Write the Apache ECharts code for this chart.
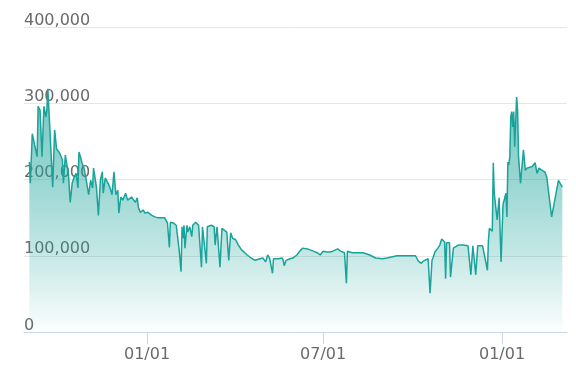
<!DOCTYPE html>
<html>
<head>
<meta charset="utf-8">
<script src="https://cdn.jsdelivr.net/npm/echarts@6/dist/echarts.min.js"></script>
<style>html,body{margin:0;padding:0;background:#fff}#c{width:576px;height:390px}</style>
</head>
<body>
<div id="c"></div>
<script>
const dates = [
'2020-09-02','2020-09-03','2020-09-05','2020-09-10','2020-09-11','2020-09-13','2020-09-15','2020-09-17','2020-09-19','2020-09-20','2020-09-21','2020-09-23','2020-09-25','2020-09-26','2020-09-28','2020-09-30',
'2020-10-03','2020-10-05','2020-10-06','2020-10-07','2020-10-09','2020-10-11','2020-10-12','2020-10-14','2020-10-16','2020-10-18','2020-10-20','2020-10-22','2020-10-23','2020-10-25','2020-10-26','2020-10-28','2020-10-30',
'2020-11-01','2020-11-02','2020-11-04','2020-11-06','2020-11-07','2020-11-10','2020-11-12','2020-11-14','2020-11-16','2020-11-17','2020-11-19','2020-11-22','2020-11-24','2020-11-26','2020-11-28','2020-11-30',
'2020-12-02','2020-12-03','2020-12-05','2020-12-07','2020-12-10','2020-12-12','2020-12-16','2020-12-18','2020-12-20','2020-12-22','2020-12-23','2020-12-25','2020-12-28','2020-12-30',
'2021-01-02','2021-01-06','2021-01-09','2021-01-12','2021-01-16','2021-01-19','2021-01-22','2021-01-24','2021-01-25','2021-01-28','2021-01-31',
'2021-02-02','2021-02-03','2021-02-05','2021-02-06','2021-02-07','2021-02-08','2021-02-09','2021-02-11','2021-02-12','2021-02-14','2021-02-16','2021-02-17','2021-02-20','2021-02-23','2021-02-26','2021-02-27',
'2021-03-01','2021-03-03','2021-03-04','2021-03-06','2021-03-08','2021-03-10','2021-03-11','2021-03-12','2021-03-14','2021-03-15','2021-03-17','2021-03-19','2021-03-21','2021-03-24','2021-03-26','2021-03-28','2021-03-30',
'2021-04-02','2021-04-05','2021-04-08','2021-04-10','2021-04-14','2021-04-17','2021-04-22','2021-04-24','2021-04-27','2021-04-30',
'2021-05-01','2021-05-03','2021-05-05','2021-05-07','2021-05-10','2021-05-11','2021-05-16','2021-05-20','2021-05-21','2021-05-22','2021-05-24','2021-05-28','2021-05-31',
'2021-06-04','2021-06-07','2021-06-10','2021-06-15','2021-06-21','2021-06-25','2021-06-28',
'2021-07-01','2021-07-05','2021-07-08','2021-07-11','2021-07-16','2021-07-19','2021-07-23','2021-07-25','2021-07-26','2021-07-31',
'2021-08-02','2021-08-04','2021-08-06','2021-08-11','2021-08-18','2021-08-24','2021-08-31',
'2021-09-05','2021-09-08','2021-09-15','2021-09-21','2021-09-28',
'2021-10-04','2021-10-07','2021-10-10','2021-10-12','2021-10-17','2021-10-19','2021-10-21','2021-10-22','2021-10-24','2021-10-27','2021-10-29','2021-10-31',
'2021-11-03','2021-11-04','2021-11-05','2021-11-08','2021-11-09','2021-11-12','2021-11-17','2021-11-22','2021-11-27','2021-11-30',
'2021-12-02','2021-12-05','2021-12-07','2021-12-12','2021-12-17','2021-12-18','2021-12-19','2021-12-22','2021-12-23','2021-12-24','2021-12-26','2021-12-27','2021-12-29','2021-12-31',
'2022-01-02','2022-01-04','2022-01-05','2022-01-06','2022-01-07','2022-01-08','2022-01-09','2022-01-10','2022-01-11','2022-01-12','2022-01-13','2022-01-14','2022-01-16','2022-01-17','2022-01-18','2022-01-20','2022-01-23','2022-01-25','2022-01-27',
'2022-02-01','2022-02-04','2022-02-06','2022-02-08','2022-02-11','2022-02-14','2022-02-16','2022-02-21','2022-02-28','2022-03-04'
];
const values = [
223000,195000,260000,230000,296000,291000,230000,296000,282000,291000,319000,269000,217000,190000,265000,240000,
235000,236000,226000,195000,232000,216000,212000,170000,195000,203000,208000,189000,236000,228000,222000,216000,203000,
202000,180000,199000,189000,215000,190000,153000,199000,210000,182000,202000,195000,189000,180000,210000,180000,
186000,156000,177000,173000,182000,173000,177000,176000,170000,176000,164000,157000,160000,156000,
157000,153000,151000,150000,150000,150000,143000,111000,144000,143000,140000,
138000,108000,79000,138000,123000,140000,110000,140000,131000,138000,125000,140000,144000,140000,85000,138000,
140000,90000,138000,138000,140000,138000,138000,114000,138000,136000,85000,136000,136000,131000,94000,130000,123000,
121000,114000,108000,106000,101000,98000,94000,92000,96000,97000,
98000,92000,101000,97000,77000,96000,96000,97000,94000,87000,94000,96000,97000,
101000,106000,110000,109000,106000,104000,101000,
106000,105000,105000,106000,109000,106000,104000,64000,106000,104000,
106000,104000,104000,104000,101000,97000,96000,
97000,98000,100000,100000,100000,
100000,93000,90000,93000,96000,51000,94000,97000,105000,110000,114000,122000,
118000,70000,117000,117000,72000,110000,114000,114000,113000,75000,
113000,75000,113000,113000,81000,120000,136000,132000,222000,182000,180000,147000,176000,92000,
167000,177000,182000,151000,223000,219000,230000,282000,289000,269000,289000,243000,308000,291000,230000,195000,239000,212000,215000,
217000,222000,208000,215000,212000,210000,203000,151000,199000,190000
];
const tickDates = ['2021-01-01','2021-07-01','2022-01-01'];
const yTicks = [0, 100000, 200000, 300000, 400000];

function toTime(s){ const p=s.split('-').map(Number); return new Date(p[0],p[1]-1,p[2]).getTime(); }
function pad(n){ return (n<10?'0':'')+n; }

const seriesData = dates.map((d,i)=>[toTime(d), values[i]]);
const tickValues = tickDates.map(toTime);
const DAY = 86400000;

const chart = echarts.init(document.getElementById('c'), null, {renderer:'canvas'});
chart.setOption({
  animation:false,
  backgroundColor:'#ffffff',
  grid:{left:24, right:9, top:27, bottom:58, containLabel:false},
  xAxis:{
    type:'value',
    scale:true,
    min: toTime('2020-08-28') - DAY*0.5,
    max: toTime('2022-03-08') + DAY*0.8,
    axisLine:{show:true, lineStyle:{color:'#ccd6eb', width:1}},
    axisTick:{show:true, customValues:tickValues, length:12, lineStyle:{color:'#ccd6eb'}},
    axisLabel:{
      customValues:tickValues,
      formatter:function(v){ const d=new Date(v); return pad(d.getMonth()+1)+'/'+pad(d.getDate()); },
      color:'#6a6a6a', fontSize:16, fontFamily:'DejaVu Sans', margin:15
    },
    splitLine:{show:false}
  },
  yAxis:{
    type:'value', min:yTicks[0], max:yTicks[yTicks.length-1], interval:100000,
    axisLine:{show:false}, axisTick:{show:false},
    splitLine:{lineStyle:{color:'#e6e6e6'}},
    axisLabel:{inside:true, verticalAlign:'bottom', margin:0, padding:0, lineHeight:13,
      color:'#6a6a6a', fontSize:16, fontFamily:'DejaVu Sans'}
  },
  series:[{
    type:'line',
    data:seriesData,
    showSymbol:false,
    symbol:'none',
    lineStyle:{color:'#19a39a', width:1.5},
    areaStyle:{
      color:new echarts.graphic.LinearGradient(0,0,0,1,[
        {offset:0, color:'rgba(25,163,154,0.85)'},
        {offset:0.37, color:'rgba(25,163,154,0.64)'},
        {offset:0.66, color:'rgba(25,163,154,0.38)'},
        {offset:1, color:'rgba(25,163,154,0.02)'}
      ])
    }
  }]
});
</script>
</body>
</html>
